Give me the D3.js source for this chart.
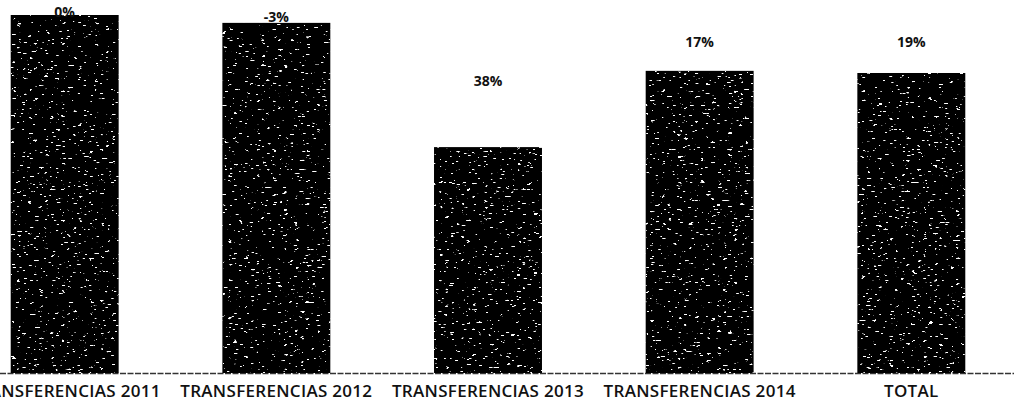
<!DOCTYPE html>
<html>
<head>
<meta charset="utf-8">
<script src="https://cdn.jsdelivr.net/npm/d3@7"></script>
<style>
  html, body { margin: 0; padding: 0; background: #fff; }
  svg { display: block; }
</style>
</head>
<body>
<svg id="chart" width="1014" height="403"></svg>
<script>
// ---- data ----
const categories = ["TRANSFERENCIAS 2011", "TRANSFERENCIAS 2012", "TRANSFERENCIAS 2013", "TRANSFERENCIAS 2014", "TOTAL"];
const values = [100, 97.8, 63.1, 84.4, 83.8];          // relative bar heights (index)
const pctLabels = ["0%", "-3%", "38%", "17%", "19%"];   // printed labels
const labelLevels = [99.4, 98.0, 80.2, 91.1, 91.1];     // level (same units) where each label sits

// ---- layout ----
const W = 1014, H = 403;
const svg = d3.select("#chart");

const x = d3.scaleBand()
  .domain(categories)
  .range([-93, 1069])
  .paddingInner(0.49)
  .paddingOuter(0.49);

const y = d3.scaleLinear()
  .domain([0, 100])
  .range([373, 15]);

// noise texture filter for bars
const defs = svg.append("defs");
const f = defs.append("filter").attr("id", "speckle")
  .attr("x", 0).attr("y", 0).attr("width", 1).attr("height", 1)
  .attr("filterUnits", "objectBoundingBox")
  .attr("color-interpolation-filters", "sRGB");
f.append("feTurbulence").attr("type", "fractalNoise")
  .attr("baseFrequency", "0.18 0.55").attr("numOctaves", 2).attr("seed", 7).attr("result", "t");
f.append("feColorMatrix").attr("in", "t").attr("type", "matrix")
  .attr("values", "0 0 0 0 1  0 0 0 0 1  0 0 0 0 1  26 0 0 0 -17.8").attr("result", "w");
f.append("feComposite").attr("in", "w").attr("in2", "SourceGraphic").attr("operator", "in").attr("result", "wc");
const m = f.append("feMerge");
m.append("feMergeNode").attr("in", "SourceGraphic");
m.append("feMergeNode").attr("in", "wc");

// baseline (axis)
const xAxis = d3.axisBottom(x).tickSize(0).tickPadding(0).tickFormat("");
const axisG = svg.append("g").attr("transform", `translate(0,${y(0)})`).call(xAxis);
axisG.select(".domain")
  .attr("d", `M0,0.5H${W}`)
  .attr("stroke", "#333")
  .attr("stroke-width", 1.5)
  .attr("stroke-dasharray", "6,1.5");

// bars
svg.append("g").selectAll("rect")
  .data(categories)
  .join("rect")
  .attr("x", d => x(d))
  .attr("width", x.bandwidth())
  .attr("y", (d, i) => y(values[i]))
  .attr("height", (d, i) => y(0) - y(values[i]))
  .attr("fill", "#000")
  .attr("filter", "url(#speckle)");

// value labels
svg.append("g").selectAll("text")
  .data(categories)
  .join("text")
  .attr("x", d => x(d) + x.bandwidth() / 2)
  .attr("y", (d, i) => y(labelLevels[i]))
  .attr("text-anchor", "middle")
  .attr("font-family", "'Open Sans', sans-serif")
  .attr("font-weight", 700)
  .attr("font-size", 14)
  .attr("fill", "#111")
  .text((d, i) => pctLabels[i]);

// category labels
svg.append("g").selectAll("text")
  .data(categories)
  .join("text")
  .attr("x", d => x(d) + x.bandwidth() / 2)
  .attr("y", 397)
  .attr("text-anchor", "middle")
  .attr("font-family", "'Open Sans', sans-serif")
  .attr("font-weight", 600)
  .attr("font-size", 17)
  .attr("letter-spacing", 0.3)
  .attr("fill", "#111")
  .text(d => d);
</script>
</body>
</html>
